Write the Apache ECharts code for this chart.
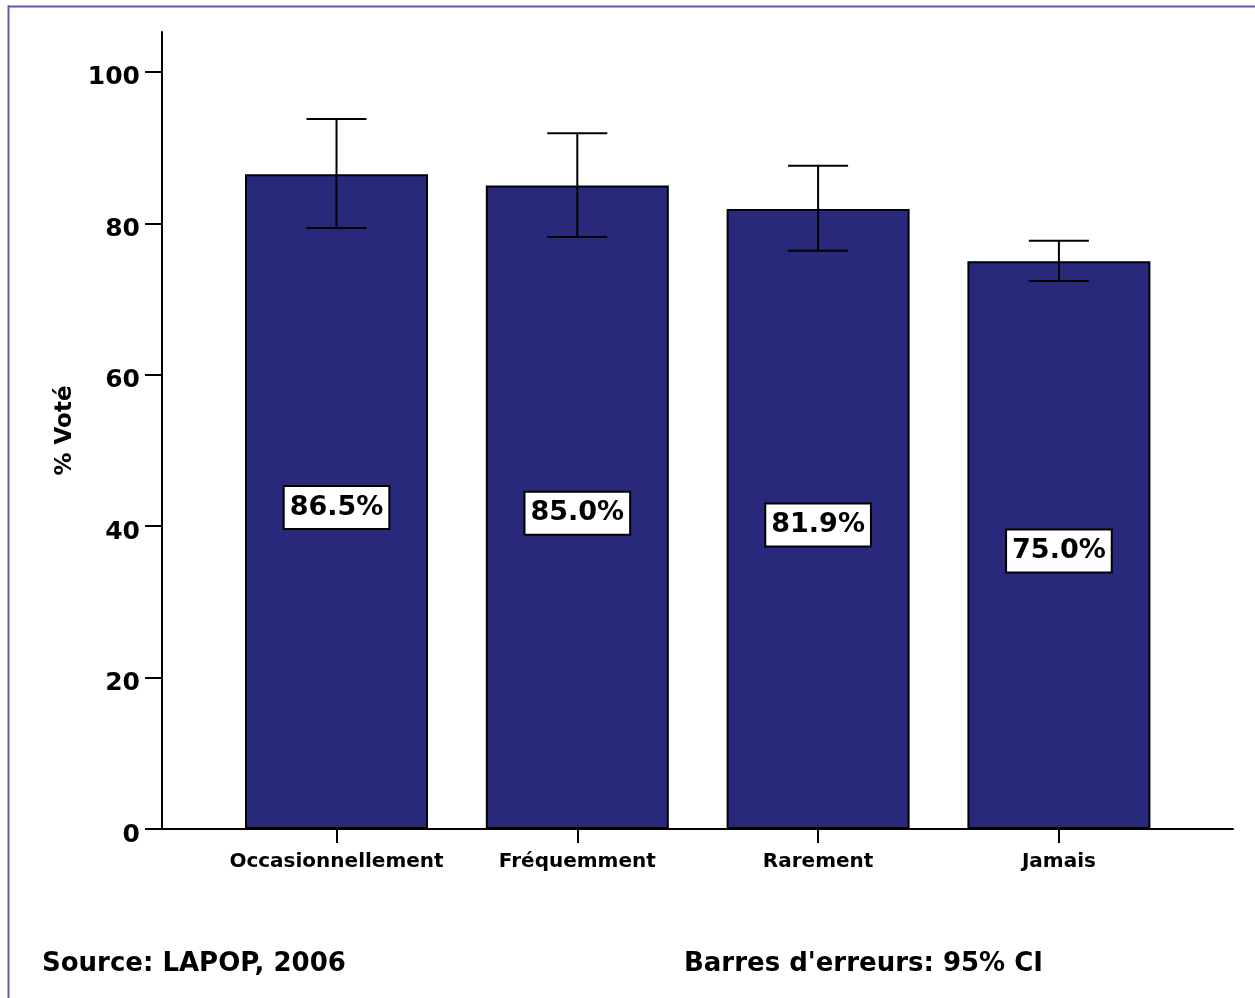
<!DOCTYPE html>
<html>
<head>
<meta charset="utf-8">
<script src="https://cdn.jsdelivr.net/npm/echarts@6/dist/echarts.min.js"></script>
<style>
  html, body { margin: 0; padding: 0; background: #ffffff; }
  #chart { width: 1255px; height: 998px; }
</style>
</head>
<body>
<div id="chart"></div>
<script>
const categories = ['Occasionnellement', 'Fréquemment', 'Rarement', 'Jamais'];
const percentVoted = [86.5, 85.0, 81.9, 75.0];
const ciLow = [79.4, 78.2, 76.4, 72.4];
const ciHigh = [93.8, 91.9, 87.6, 77.7];
const yTicks = [0, 20, 40, 60, 80, 100];
const xTicks = [0, 1, 2, 3];

const FONT = 'DejaVu Sans';
const chart = echarts.init(document.getElementById('chart'), null, { renderer: 'canvas' });

const barData = percentVoted.map((v, i) => [i, v]);
const errData = categories.map((c, i) => [i, ciLow[i], ciHigh[i]]);

chart.setOption({
  backgroundColor: '#ffffff',
  animation: false,
  grid: { left: 162, right: 22, top: 32, bottom: 169, containLabel: false },
  xAxis: {
    type: 'value',
    min: -0.7247,
    max: 3.723,
    splitLine: { show: false },
    axisLine: { show: true, onZero: false, lineStyle: { color: '#000', width: 2 } },
    axisTick: { show: true, customValues: xTicks, length: 14, lineStyle: { color: '#000', width: 2 } },
    axisLabel: {
      customValues: xTicks,
      formatter: v => categories[Math.round(v)] || '',
      color: '#000', fontFamily: FONT, fontWeight: 'bold', fontSize: 20, margin: 23
    }
  },
  yAxis: {
    type: 'value',
    min: 0,
    max: 105.28,
    name: '% Voté',
    nameLocation: 'middle',
    nameRotate: 90,
    nameGap: 78,
    nameTextStyle: { color: '#000', fontFamily: FONT, fontWeight: 'bold', fontSize: 23 },
    splitLine: { show: false },
    axisLine: { show: true, onZero: false, lineStyle: { color: '#000', width: 2 } },
    axisTick: { show: true, customValues: yTicks, length: 17, lineStyle: { color: '#000', width: 2 } },
    axisLabel: {
      customValues: yTicks,
      formatter: v => '{t|' + v + '}',
      margin: 22,
      rich: {
        t: { color: '#000', fontFamily: FONT, fontWeight: 'bold', fontSize: 25, padding: [12, 0, 0, 0] }
      }
    }
  },
  series: [
    {
      type: 'bar',
      data: barData,
      barWidth: 183,
      itemStyle: { color: '#28297a', borderColor: '#000', borderWidth: 2 },
      label: {
        show: true,
        position: 'inside',
        offset: [0, 6],
        formatter: p => p.value[1].toFixed(1) + '%',
        color: '#000',
        fontFamily: FONT,
        fontWeight: 'bold',
        fontSize: 27,
        backgroundColor: '#ffffff',
        borderColor: '#000',
        borderWidth: 2,
        padding: [8, 5, 6, 5]
      },
      z: 2
    },
    {
      type: 'custom',
      data: errData,
      z: 5,
      renderItem: (params, api) => {
        const x = api.value(0);
        const lo = api.coord([x, api.value(1)]);
        const hi = api.coord([x, api.value(2)]);
        const half = 30;
        const style = { stroke: '#000', lineWidth: 2 };
        return {
          type: 'group',
          children: [
            { type: 'line', shape: { x1: lo[0], y1: lo[1], x2: hi[0], y2: hi[1] }, style },
            { type: 'line', shape: { x1: hi[0] - half, y1: hi[1], x2: hi[0] + half, y2: hi[1] }, style },
            { type: 'line', shape: { x1: lo[0] - half, y1: lo[1], x2: lo[0] + half, y2: lo[1] }, style }
          ]
        };
      }
    }
  ],
  graphic: [
    { type: 'rect', shape: { x: 8, y: 5.5, width: 1247, height: 2 }, style: { fill: '#5b5cb5' }, z: 10 },
    { type: 'rect', shape: { x: 7.5, y: 5.5, width: 2, height: 993 }, style: { fill: '#5b5cb5' }, z: 10 },
    {
      type: 'text', left: 42, top: 951,
      style: { text: 'Source: LAPOP, 2006', fill: '#000', font: 'bold 26px "DejaVu Sans"' }
    },
    {
      type: 'text', left: 684, top: 951,
      style: { text: "Barres d'erreurs: 95% CI", fill: '#000', font: 'bold 26px "DejaVu Sans"' }
    }
  ]
});
</script>
</body>
</html>
